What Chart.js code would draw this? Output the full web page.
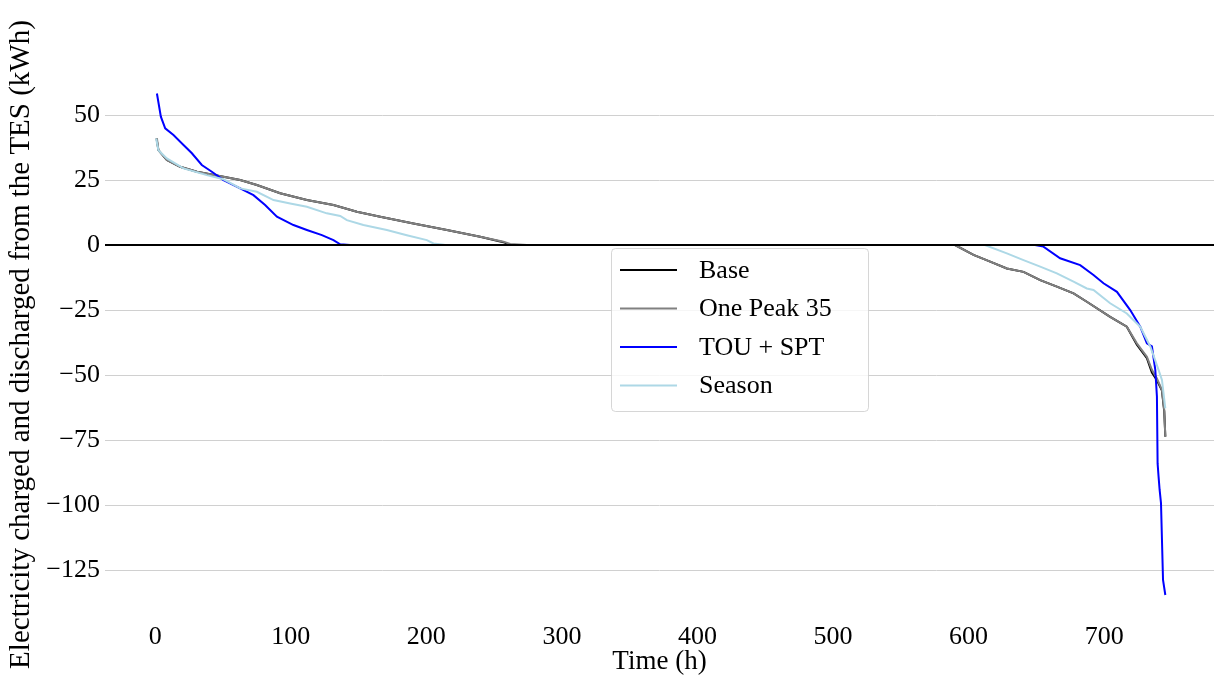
<!DOCTYPE html>
<html>
<head>
<meta charset="utf-8">
<title>TES duration curves</title>
<script src="https://cdn.jsdelivr.net/npm/chart.js@4.4.0/dist/chart.umd.min.js"></script>
<style>
    html, body { margin: 0; padding: 0; background: #fff; }
    #wrap { width: 1214px; height: 678px; }
</style>
</head>
<body>
<div id="wrap"><canvas id="tesChart" width="1214" height="678"></canvas></div>
<script>
// ============================================
// Data
// ============================================
const seriesLabels = ['Base', 'One Peak 35', 'TOU + SPT', 'Season'];
const xTickValues = [0, 100, 200, 300, 400, 500, 600, 700];
const yTickValues = [50, 25, 0, -25, -50, -75, -100, -125];

const baseHours = [1, 2.4, 8.6, 18.4, 30.8, 50.4, 62.7, 75, 92.2, 111.9, 131.5, 148.8, 166, 190.5, 215.2, 239.7, 256.9, 262,
    590, 603.6, 615.9, 628.2, 640.5, 652.8, 665.1, 677.4, 687.2, 704.4, 716.7, 724.1, 731.5, 735.2, 738.9, 742.6, 744.3, 745.1];
const baseKWh = [41, 36.5, 32.7, 30.1, 28.2, 26.3, 25, 23.1, 19.9, 17.3, 15.4, 12.8, 10.9, 8.3, 5.8, 3.2, 1.1, 0,
    0, -3.8, -6.4, -9, -10.3, -13.5, -16, -18.6, -21.8, -27.6, -31.4, -38.3, -43.5, -49, -52, -56, -64, -73.7];

const peakHours = [1.3, 2.4, 8.6, 18.4, 30.8, 50.4, 62.7, 75, 92.2, 111.9, 131.5, 148.8, 166, 190.5, 215.2, 239.7, 256.9, 261.9, 274.2,
    590, 603.6, 615.9, 628.2, 640.5, 652.8, 665.1, 677.4, 687.2, 704.4, 716.7, 724.1, 731.5, 735.2, 738.9, 742.6, 744.3, 745.1];
const peakKWh = [41, 36.5, 32.7, 30.1, 28.2, 26.3, 25, 23.1, 19.9, 17.3, 15.4, 12.8, 10.9, 8.3, 5.8, 3.2, 1.3, 0.4, 0,
    0, -3.8, -6.4, -9, -10.3, -13.5, -16, -18.6, -21.8, -27.6, -31.4, -37.8, -43, -48, -51.3, -55.8, -63.5, -73.7];

const touHours = [1.3, 4.2, 7.4, 13.5, 20.9, 27.1, 34.4, 41.8, 50.4, 62.7, 72.5, 81.1, 89.8, 102, 111.9, 123, 131.5, 136.5, 143.8,
    649, 655.2, 667.5, 682.3, 692.1, 699.5, 709.4, 719.2, 726.6, 731.5, 735.2, 737.7, 738.9, 739.4, 740.1, 740.9, 741.9, 743.4, 745.1];
const touKWh = [58.3, 49.4, 44.9, 42.3, 38.5, 35.3, 30.8, 28.2, 25, 21.8, 19.2, 15.4, 10.9, 7.7, 5.8, 3.8, 1.9, 0.3, 0,
    0, -0.6, -5.1, -7.7, -11.5, -14.7, -18, -25, -31.4, -37.8, -39, -48, -58.3, -84, -89, -94.2, -99.2, -128.8, -134.6];

const seasonHours = [0.7, 2.4, 8.6, 20.9, 38.1, 50.4, 62.7, 75, 87.3, 99.6, 111.9, 126.6, 136.5, 141.4, 153.6, 170.9, 185.6, 200.4, 205.3, 211.5, 213.9,
    612, 628.2, 640.5, 652.8, 665.1, 677.4, 687.2, 692.1, 704.4, 716.7, 726.6, 734, 740.1, 742.6, 745.1];
const seasonKWh = [41, 36.5, 33.3, 29.5, 26.9, 25.3, 21.8, 20.5, 17.3, 16, 14.7, 12.2, 11.2, 9.6, 7.7, 5.8, 3.8, 1.9, 0.6, 0.2, 0,
    0, -3.2, -5.8, -8.3, -10.9, -14.1, -16.7, -17.3, -22.4, -26.3, -31.4, -39, -48, -51.9, -62.8];

// ============================================
// Helpers
// ============================================
const SERIF = '"Liberation Serif", "Times New Roman", serif';

function toPoints(hours, values) {
    return hours.map((h, i) => ({ x: h, y: values[i] }));
}

function minusLabel(v) {
    return v < 0 ? '\u2212' + Math.abs(v) : String(v);
}

// black zero line, drawn over the curves
const zeroLinePlugin = {
    id: 'zeroLine',
    afterDatasetsDraw(chart) {
        const { ctx, chartArea, scales } = chart;
        const y = Math.round(scales.y.getPixelForValue(0));
        ctx.save();
        ctx.strokeStyle = '#000';
        ctx.lineWidth = 2;
        ctx.beginPath();
        ctx.moveTo(chartArea.left, y);
        ctx.lineTo(chartArea.right, y);
        ctx.stroke();
        ctx.restore();
    }
};

// matplotlib-like legend box in the middle of the plot
const legendBoxPlugin = {
    id: 'legendBox',
    afterDraw(chart) {
        const { ctx } = chart;
        const box = { x: 611.5, y: 248.5, w: 257, h: 163, r: 4 };
        ctx.save();
        ctx.beginPath();
        ctx.roundRect(box.x, box.y, box.w, box.h, box.r);
        ctx.fillStyle = 'rgba(255,255,255,0.8)';
        ctx.fill();
        ctx.strokeStyle = 'rgba(204,204,204,0.8)';
        ctx.lineWidth = 1;
        ctx.stroke();

        ctx.font = '26px ' + SERIF;
        ctx.textBaseline = 'middle';
        ctx.textAlign = 'left';
        chart.data.datasets.forEach((ds, i) => {
            const rowY = 270 + i * 38.5;
            ctx.strokeStyle = ds.borderColor;
            ctx.lineWidth = 2;
            ctx.beginPath();
            ctx.moveTo(620, rowY);
            ctx.lineTo(677, rowY);
            ctx.stroke();
            ctx.fillStyle = '#000';
            ctx.fillText(ds.label, 699, rowY + 1);
        });
        ctx.restore();
    }
};

// ============================================
// Chart
// ============================================
const lineColors = ['#000000', '#808080', '#0000ff', '#add8e6'];
const seriesPoints = [
    toPoints(baseHours, baseKWh),
    toPoints(peakHours, peakKWh),
    toPoints(touHours, touKWh),
    toPoints(seasonHours, seasonKWh)
];

new Chart(document.getElementById('tesChart'), {
    type: 'line',
    data: {
        datasets: seriesPoints.map((pts, i) => ({
            label: seriesLabels[i],
            data: pts,
            borderColor: lineColors[i],
            backgroundColor: lineColors[i],
            borderWidth: 2,
            pointRadius: 0,
            tension: 0,
            fill: false,
            order: 3 - i
        }))
    },
    options: {
        responsive: false,
        animation: false,
        devicePixelRatio: 1,
        layout: { padding: { top: 68, right: 0, bottom: 0, left: 0 } },
        plugins: {
            legend: { display: false },
            tooltip: { enabled: false }
        },
        scales: {
            x: {
                type: 'linear',
                min: -37,
                max: 781,
                afterBuildTicks: (scale) => { scale.ticks = xTickValues.map(v => ({ value: v })); },
                afterFit: (scale) => { scale.height = 57; },
                grid: { display: false, drawTicks: false },
                border: { display: false },
                ticks: {
                    color: '#000',
                    font: { family: SERIF, size: 26 },
                    padding: 1,
                    maxRotation: 0
                },
                title: {
                    display: true,
                    text: 'Time (h)',
                    color: '#000',
                    font: { family: SERIF, size: 27 },
                    padding: { top: 0, bottom: 0 }
                }
            },
            y: {
                min: -144.6,
                max: 68.1,
                afterBuildTicks: (scale) => { scale.ticks = yTickValues.map(v => ({ value: v })); },
                afterFit: (scale) => { scale.width = 105; },
                grid: { color: '#d0d0d0', lineWidth: 1, drawTicks: false },
                border: { display: false },
                ticks: {
                    color: '#000',
                    font: { family: SERIF, size: 26 },
                    padding: 5,
                    callback: (v) => minusLabel(v)
                },
                title: {
                    display: true,
                    text: 'Electricity charged and discharged from the TES (kWh)',
                    color: '#000',
                    font: { family: SERIF, size: 29 },
                    padding: { top: 4, bottom: 0 }
                }
            }
        }
    },
    plugins: [zeroLinePlugin, legendBoxPlugin]
});
</script>
</body>
</html>
